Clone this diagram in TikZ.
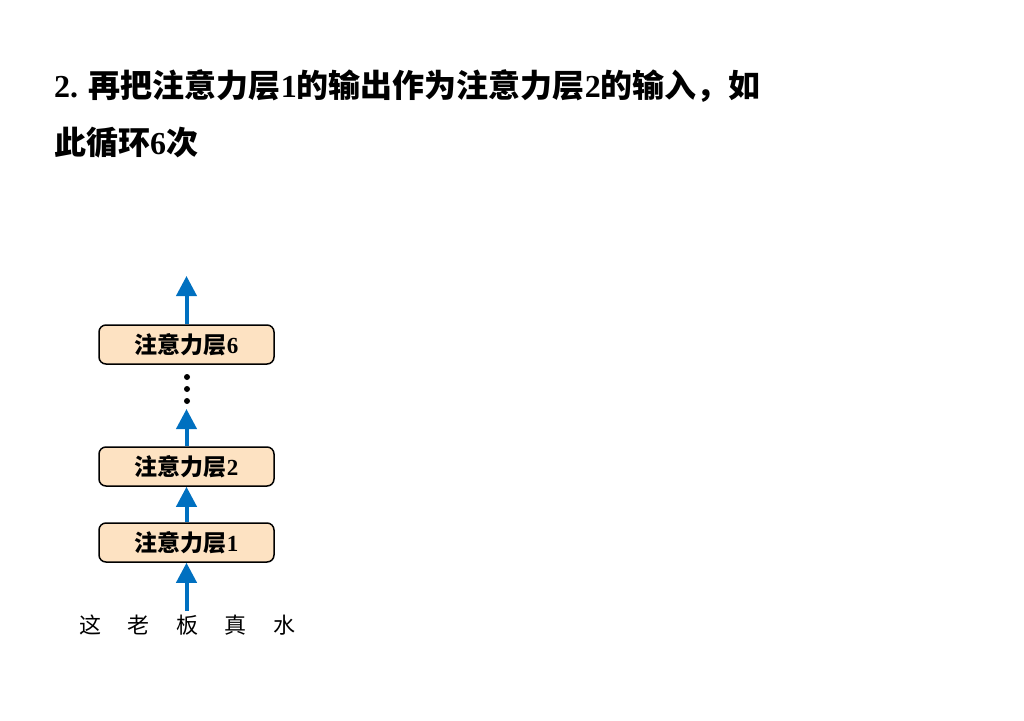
\documentclass[tikz,border=0pt]{standalone}
\usepackage{fontspec}
\setmainfont{Liberation Serif}
\newfontfamily\cjk{Noto Sans CJK SC}
\newfontfamily\lat{Liberation Serif Bold}
\usetikzlibrary{arrows.meta}
\definecolor{boxfill}{HTML}{FDE2C2}
\definecolor{arrowblue}{HTML}{0070C0}
\begin{document}
\begin{tikzpicture}[x=1pt,y=-1pt,
  layerbox/.style={draw=black, line width=1.5pt, fill=boxfill, rounded corners=7pt,
    minimum width=175pt, minimum height=39pt, inner sep=0pt,
    font=\fontsize{23}{23}\selectfont\bfseries},
  uparrow/.style={draw=arrowblue, line width=4pt, -{Triangle[width=20pt,length=20pt]}},
  word/.style={font=\fontsize{22}{22}\selectfont\cjk, inner sep=0pt},
  titletext/.style={anchor=base west, inner sep=0pt, font=\fontsize{32}{32}\selectfont\bfseries},
  dot/.style={circle, fill=black, inner sep=0pt, minimum size=6pt}]
\useasboundingbox (0,0) rectangle (1024,720);
\fill[white] (0,0) rectangle (1024,720);

\node[titletext] (t1) at (54,97) {{\lat 2. }{\cjk 再把注意力层}{\lat 1}{\cjk 的输出作为注意力层}{\lat 2}{\cjk 的输入，如}};
\node[titletext] (t2) at (54,154) {{\cjk 此循环}{\lat 6}{\cjk 次}};

\node[layerbox] (b1) at (186.5,542.5) {{\cjk 注意力层}{\lat 1}};
\node[layerbox] (b2) at (186.5,466.5) {{\cjk 注意力层}{\lat 2}};
\node[layerbox] (b6) at (186.5,344.5) {{\cjk 注意力层}{\lat 6}};

\node[dot] (d1) at (187,377) {};
\node[dot] (d2) at (187,389) {};
\node[dot] (d3) at (187,401) {};

\coordinate (in) at (186.5,611);
\coordinate (mid) at (186.5,409);
\coordinate (out) at (186.5,276);

\draw[uparrow] (in) -- (b1.south);
\draw[uparrow] (b1.north) -- (b2.south);
\draw[uparrow] (b2.north) -- (mid);
\draw[uparrow] (b6.north) -- (out);

\node[word] (w1) at (90,625) {这};
\node[word] (w2) at (138,625) {老};
\node[word] (w3) at (187,625) {板};
\node[word] (w4) at (235,625) {真};
\node[word] (w5) at (284,625) {水};
\end{tikzpicture}
\end{document}
